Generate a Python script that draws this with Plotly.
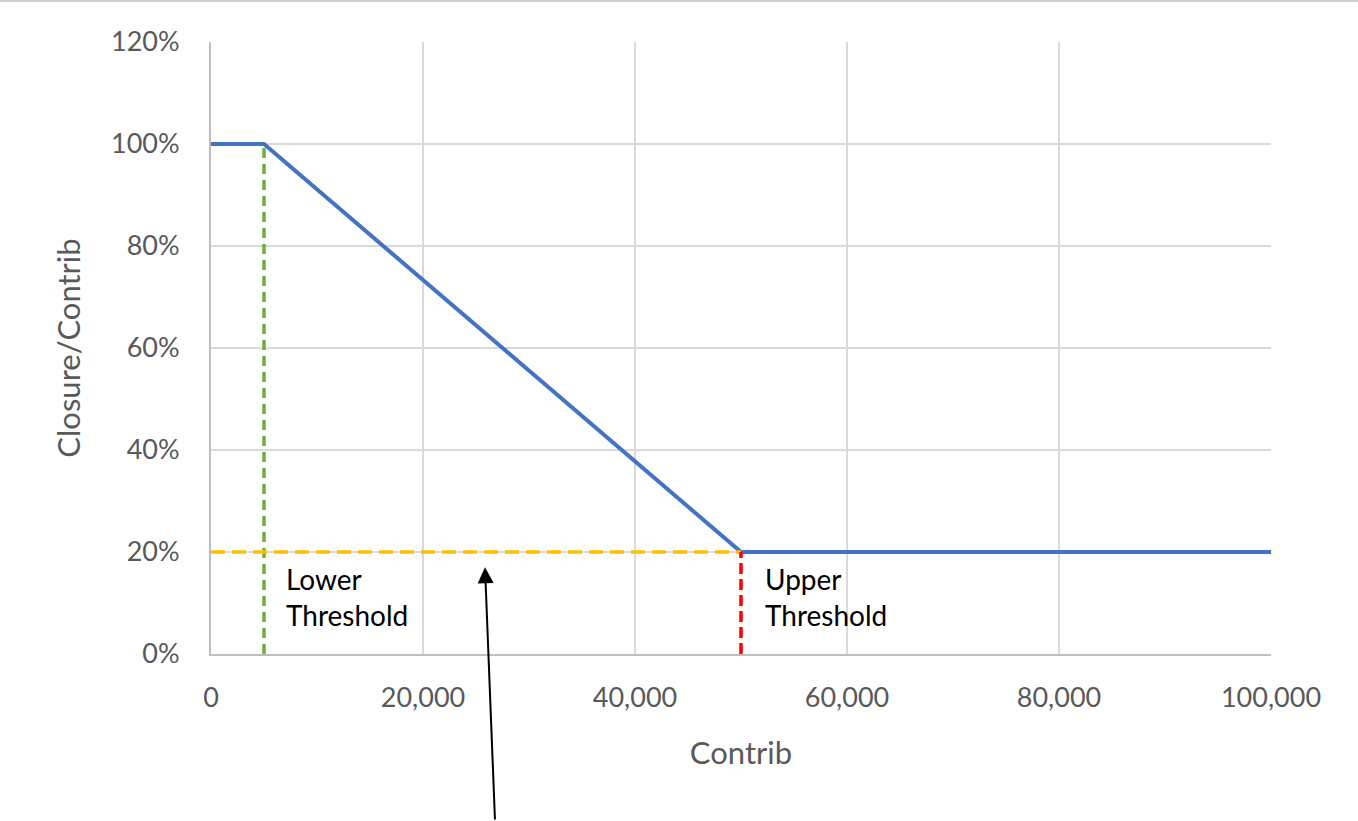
import plotly.graph_objects as go

# Closure ratio curve: flat at 100% below the lower threshold, linear decline,
# then flat at 20% beyond the upper threshold.
contrib = [0, 5000, 50000, 100000]
closure_ratio = [1.00, 1.00, 0.20, 0.20]

lower_threshold = 5000
upper_threshold = 50000
floor_ratio = 0.20

x_ticks = [0, 20000, 40000, 60000, 80000, 100000]
y_ticks = [0, 0.2, 0.4, 0.6, 0.8, 1.0, 1.2]

FONT = "Lato"
GRAY = "#595959"
GRID = "#d9d9d9"

fig = go.Figure()

fig.add_trace(go.Scatter(
    x=contrib, y=closure_ratio, mode="lines",
    line=dict(color="#4472C4", width=4),
    hoverinfo="skip", showlegend=False,
))

# Lower threshold marker
fig.add_trace(go.Scatter(
    x=[lower_threshold, lower_threshold], y=[0, closure_ratio[1]], mode="lines",
    line=dict(color="#70AD47", width=3.5, dash="10px,6px"),
    hoverinfo="skip", showlegend=False,
))

# Floor level up to the upper threshold
fig.add_trace(go.Scatter(
    x=[0, upper_threshold], y=[floor_ratio, floor_ratio], mode="lines",
    line=dict(color="#FFC000", width=3.5, dash="14px,7px"),
    hoverinfo="skip", showlegend=False,
))

# Upper threshold marker
fig.add_trace(go.Scatter(
    x=[upper_threshold, upper_threshold], y=[0, floor_ratio], mode="lines",
    line=dict(color="#FF0000", width=3.5, dash="11px,5px"),
    hoverinfo="skip", showlegend=False,
))

fig.add_annotation(
    x=lower_threshold, y=floor_ratio, xref="x", yref="y",
    text="Lower<br>Threshold", showarrow=False,
    xanchor="left", yanchor="top", xshift=20, yshift=-8, align="left",
    font=dict(family=FONT, size=28, color="black"),
)
fig.add_annotation(
    x=upper_threshold, y=floor_ratio, xref="x", yref="y",
    text="Upper<br>Threshold", showarrow=False,
    xanchor="left", yanchor="top", xshift=22, yshift=-8, align="left",
    font=dict(family=FONT, size=28, color="black"),
)

# Pointer to the floor line
fig.add_annotation(
    x=25850, y=0.17, xref="x", yref="y",
    ax=10, ay=256, axref="pixel", ayref="pixel",
    text="", showarrow=True, arrowhead=2, arrowsize=1.6, arrowwidth=2,
    arrowcolor="black",
)

# Thin rule across the top of the page
fig.add_shape(
    type="line", xref="paper", yref="paper",
    x0=-211 / 1060, x1=1 + 87 / 1060, y0=1 + 41 / 612, y1=1 + 41 / 612,
    line=dict(color="#d0d0d0", width=2),
)

fig.update_layout(
    width=1358, height=821,
    margin=dict(l=211, r=87, t=42, b=167),
    paper_bgcolor="white", plot_bgcolor="white",
    font=dict(family=FONT, color=GRAY),
)

fig.update_xaxes(
    range=[0, 100000], tickvals=x_ticks, tickformat=",",
    tickfont=dict(size=27, color=GRAY),
    showgrid=True, gridcolor=GRID, gridwidth=2,
    showline=True, linecolor="#bfbfbf", linewidth=2,
    zeroline=False, ticks="outside", ticklen=19, tickcolor="rgba(0,0,0,0)",
    title=dict(text="Contrib", font=dict(size=31, color=GRAY), standoff=30),
    fixedrange=True,
)
fig.update_yaxes(
    range=[0, 1.2], tickvals=y_ticks, tickformat=".0%",
    tickfont=dict(size=27, color=GRAY),
    showgrid=True, gridcolor=GRID, gridwidth=2,
    showline=True, linecolor="#bfbfbf", linewidth=2,
    zeroline=False, ticks="outside", ticklen=24, tickcolor="rgba(0,0,0,0)",
    title=dict(text="Closure/Contrib", font=dict(size=31, color=GRAY), standoff=21),
    fixedrange=True,
)

fig.write_html("out.html")
